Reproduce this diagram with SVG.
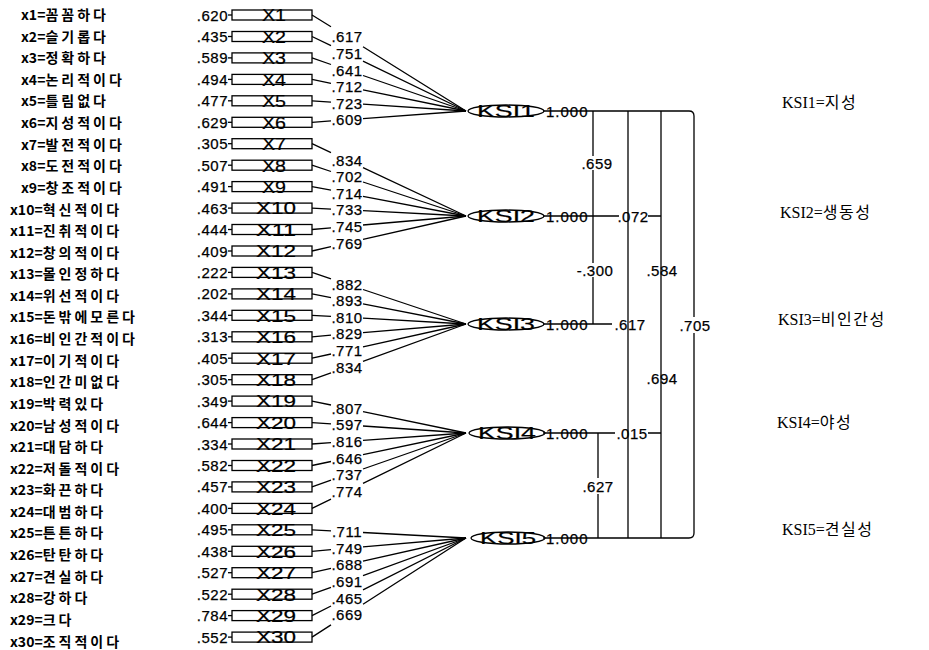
<svg xmlns="http://www.w3.org/2000/svg" width="929" height="650" viewBox="0 0 929 650">
<style>
.lab{font-family:"Noto Sans CJK KR","Noto Sans",sans-serif;font-size:14px;font-weight:700;fill:#000}
.h{letter-spacing:3px}
.num{font-family:"Liberation Sans",Arial,sans-serif;font-size:15px;letter-spacing:0.5px;fill:#000;stroke:#000;stroke-width:0.25}
.ev{text-anchor:end}
.mid{text-anchor:middle}
.bx{fill:none;stroke:#000;stroke-width:1.3}
.bt{font-family:"Liberation Sans",Arial,sans-serif;font-size:17px;text-anchor:middle;fill:#000;stroke:#000;stroke-width:0.2}
.ln{stroke:#000;stroke-width:1.3;fill:none}
.el{fill:none;stroke:#000;stroke-width:1.3}
.rl{font-family:"Liberation Serif","Noto Sans CJK KR",serif;font-size:16px;fill:#000}
.rh{letter-spacing:1.5px}
</style>
<rect width="929" height="650" fill="#fff"/>
<g id="indicators">
<g id="x1" transform="translate(0,15)"><text class="lab" x="21" y="5">x1=<tspan class="h">꼼꼼하다</tspan></text><text class="num ev" x="228" y="5.5">.620</text><path class="ln" d="M228,0H232"/><rect class="bx" x="232" y="-5" width="80" height="10"/><text class="bt" x="274" y="6.3" textLength="24" lengthAdjust="spacingAndGlyphs">X1</text></g>
<g id="x2" transform="translate(0,36.5)"><text class="lab" x="21" y="5.2">x2=<tspan class="h">슬기롭다</tspan></text><text class="num ev" x="228" y="5.5">.435</text><path class="ln" d="M228,0H232"/><rect class="bx" x="232" y="-5" width="80" height="10"/><text class="bt" x="274" y="6.3" textLength="24" lengthAdjust="spacingAndGlyphs">X2</text></g>
<g id="x3" transform="translate(0,57.9)"><text class="lab" x="21" y="5.3">x3=<tspan class="h">정확하다</tspan></text><text class="num ev" x="228" y="5.5">.589</text><path class="ln" d="M228,0H232"/><rect class="bx" x="232" y="-5" width="80" height="10"/><text class="bt" x="274" y="6.3" textLength="24" lengthAdjust="spacingAndGlyphs">X3</text></g>
<g id="x4" transform="translate(0,79.4)"><text class="lab" x="21" y="5.5">x4=<tspan class="h">논리적이다</tspan></text><text class="num ev" x="228" y="5.5">.494</text><path class="ln" d="M228,0H232"/><rect class="bx" x="232" y="-5" width="80" height="10"/><text class="bt" x="274" y="6.3" textLength="24" lengthAdjust="spacingAndGlyphs">X4</text></g>
<g id="x5" transform="translate(0,100.8)"><text class="lab" x="21" y="5.6">x5=<tspan class="h">틀림없다</tspan></text><text class="num ev" x="228" y="5.5">.477</text><path class="ln" d="M228,0H232"/><rect class="bx" x="232" y="-5" width="80" height="10"/><text class="bt" x="274" y="6.3" textLength="24" lengthAdjust="spacingAndGlyphs">X5</text></g>
<g id="x6" transform="translate(0,122.3)"><text class="lab" x="21" y="5.8">x6=<tspan class="h">지성적이다</tspan></text><text class="num ev" x="228" y="5.5">.629</text><path class="ln" d="M228,0H232"/><rect class="bx" x="232" y="-5" width="80" height="10"/><text class="bt" x="274" y="6.3" textLength="24" lengthAdjust="spacingAndGlyphs">X6</text></g>
<g id="x7" transform="translate(0,143.7)"><text class="lab" x="21" y="5.9">x7=<tspan class="h">발전적이다</tspan></text><text class="num ev" x="228" y="5.5">.305</text><path class="ln" d="M228,0H232"/><rect class="bx" x="232" y="-5" width="80" height="10"/><text class="bt" x="274" y="6.3" textLength="24" lengthAdjust="spacingAndGlyphs">X7</text></g>
<g id="x8" transform="translate(0,165.2)"><text class="lab" x="21" y="6.1">x8=<tspan class="h">도전적이다</tspan></text><text class="num ev" x="228" y="5.5">.507</text><path class="ln" d="M228,0H232"/><rect class="bx" x="232" y="-5" width="80" height="10"/><text class="bt" x="274" y="6.3" textLength="24" lengthAdjust="spacingAndGlyphs">X8</text></g>
<g id="x9" transform="translate(0,186.6)"><text class="lab" x="21" y="6.2">x9=<tspan class="h">창조적이다</tspan></text><text class="num ev" x="228" y="5.5">.491</text><path class="ln" d="M228,0H232"/><rect class="bx" x="232" y="-5" width="80" height="10"/><text class="bt" x="274" y="6.3" textLength="24" lengthAdjust="spacingAndGlyphs">X9</text></g>
<g id="x10" transform="translate(0,208.1)"><text class="lab" x="10" y="6.4">x10=<tspan class="h">혁신적이다</tspan></text><text class="num ev" x="228" y="5.5">.463</text><path class="ln" d="M228,0H232"/><rect class="bx" x="232" y="-5" width="80" height="10"/><text class="bt" x="276" y="6.3" textLength="40" lengthAdjust="spacingAndGlyphs">X10</text></g>
<g id="x11" transform="translate(0,229.5)"><text class="lab" x="10" y="6.5">x11=<tspan class="h">진취적이다</tspan></text><text class="num ev" x="228" y="5.5">.444</text><path class="ln" d="M228,0H232"/><rect class="bx" x="232" y="-5" width="80" height="10"/><text class="bt" x="276" y="6.3" textLength="40" lengthAdjust="spacingAndGlyphs">X11</text></g>
<g id="x12" transform="translate(0,251)"><text class="lab" x="10" y="6.7">x12=<tspan class="h">창의적이다</tspan></text><text class="num ev" x="228" y="5.5">.409</text><path class="ln" d="M228,0H232"/><rect class="bx" x="232" y="-5" width="80" height="10"/><text class="bt" x="276" y="6.3" textLength="40" lengthAdjust="spacingAndGlyphs">X12</text></g>
<g id="x13" transform="translate(0,272.4)"><text class="lab" x="10" y="6.8">x13=<tspan class="h">몰인정하다</tspan></text><text class="num ev" x="228" y="5.5">.222</text><path class="ln" d="M228,0H232"/><rect class="bx" x="232" y="-5" width="80" height="10"/><text class="bt" x="276" y="6.3" textLength="40" lengthAdjust="spacingAndGlyphs">X13</text></g>
<g id="x14" transform="translate(0,293.9)"><text class="lab" x="10" y="7">x14=<tspan class="h">위선적이다</tspan></text><text class="num ev" x="228" y="5.5">.202</text><path class="ln" d="M228,0H232"/><rect class="bx" x="232" y="-5" width="80" height="10"/><text class="bt" x="276" y="6.3" textLength="40" lengthAdjust="spacingAndGlyphs">X14</text></g>
<g id="x15" transform="translate(0,315.3)"><text class="lab" x="10" y="7.1">x15=<tspan class="h">돈밖에모른다</tspan></text><text class="num ev" x="228" y="5.5">.344</text><path class="ln" d="M228,0H232"/><rect class="bx" x="232" y="-5" width="80" height="10"/><text class="bt" x="276" y="6.3" textLength="40" lengthAdjust="spacingAndGlyphs">X15</text></g>
<g id="x16" transform="translate(0,336.8)"><text class="lab" x="10" y="7.3">x16=<tspan class="h">비인간적이다</tspan></text><text class="num ev" x="228" y="5.5">.313</text><path class="ln" d="M228,0H232"/><rect class="bx" x="232" y="-5" width="80" height="10"/><text class="bt" x="276" y="6.3" textLength="40" lengthAdjust="spacingAndGlyphs">X16</text></g>
<g id="x17" transform="translate(0,358.2)"><text class="lab" x="10" y="7.4">x17=<tspan class="h">이기적이다</tspan></text><text class="num ev" x="228" y="5.5">.405</text><path class="ln" d="M228,0H232"/><rect class="bx" x="232" y="-5" width="80" height="10"/><text class="bt" x="276" y="6.3" textLength="40" lengthAdjust="spacingAndGlyphs">X17</text></g>
<g id="x18" transform="translate(0,379.7)"><text class="lab" x="10" y="7.6">x18=<tspan class="h">인간미없다</tspan></text><text class="num ev" x="228" y="5.5">.305</text><path class="ln" d="M228,0H232"/><rect class="bx" x="232" y="-5" width="80" height="10"/><text class="bt" x="276" y="6.3" textLength="40" lengthAdjust="spacingAndGlyphs">X18</text></g>
<g id="x19" transform="translate(0,401.1)"><text class="lab" x="10" y="7.7">x19=<tspan class="h">박력있다</tspan></text><text class="num ev" x="228" y="5.5">.349</text><path class="ln" d="M228,0H232"/><rect class="bx" x="232" y="-5" width="80" height="10"/><text class="bt" x="276" y="6.3" textLength="40" lengthAdjust="spacingAndGlyphs">X19</text></g>
<g id="x20" transform="translate(0,422.6)"><text class="lab" x="10" y="7.9">x20=<tspan class="h">남성적이다</tspan></text><text class="num ev" x="228" y="5.5">.644</text><path class="ln" d="M228,0H232"/><rect class="bx" x="232" y="-5" width="80" height="10"/><text class="bt" x="276" y="6.3" textLength="40" lengthAdjust="spacingAndGlyphs">X20</text></g>
<g id="x21" transform="translate(0,444)"><text class="lab" x="10" y="8">x21=<tspan class="h">대담하다</tspan></text><text class="num ev" x="228" y="5.5">.334</text><path class="ln" d="M228,0H232"/><rect class="bx" x="232" y="-5" width="80" height="10"/><text class="bt" x="276" y="6.3" textLength="40" lengthAdjust="spacingAndGlyphs">X21</text></g>
<g id="x22" transform="translate(0,465.5)"><text class="lab" x="10" y="8.2">x22=<tspan class="h">저돌적이다</tspan></text><text class="num ev" x="228" y="5.5">.582</text><path class="ln" d="M228,0H232"/><rect class="bx" x="232" y="-5" width="80" height="10"/><text class="bt" x="276" y="6.3" textLength="40" lengthAdjust="spacingAndGlyphs">X22</text></g>
<g id="x23" transform="translate(0,486.9)"><text class="lab" x="10" y="8.3">x23=<tspan class="h">화끈하다</tspan></text><text class="num ev" x="228" y="5.5">.457</text><path class="ln" d="M228,0H232"/><rect class="bx" x="232" y="-5" width="80" height="10"/><text class="bt" x="276" y="6.3" textLength="40" lengthAdjust="spacingAndGlyphs">X23</text></g>
<g id="x24" transform="translate(0,508.4)"><text class="lab" x="10" y="8.5">x24=<tspan class="h">대범하다</tspan></text><text class="num ev" x="228" y="5.5">.400</text><path class="ln" d="M228,0H232"/><rect class="bx" x="232" y="-5" width="80" height="10"/><text class="bt" x="276" y="6.3" textLength="40" lengthAdjust="spacingAndGlyphs">X24</text></g>
<g id="x25" transform="translate(0,529.8)"><text class="lab" x="10" y="8.6">x25=<tspan class="h">튼튼하다</tspan></text><text class="num ev" x="228" y="5.5">.495</text><path class="ln" d="M228,0H232"/><rect class="bx" x="232" y="-5" width="80" height="10"/><text class="bt" x="276" y="6.3" textLength="40" lengthAdjust="spacingAndGlyphs">X25</text></g>
<g id="x26" transform="translate(0,551.3)"><text class="lab" x="10" y="8.8">x26=<tspan class="h">탄탄하다</tspan></text><text class="num ev" x="228" y="5.5">.438</text><path class="ln" d="M228,0H232"/><rect class="bx" x="232" y="-5" width="80" height="10"/><text class="bt" x="276" y="6.3" textLength="40" lengthAdjust="spacingAndGlyphs">X26</text></g>
<g id="x27" transform="translate(0,572.7)"><text class="lab" x="10" y="8.9">x27=<tspan class="h">견실하다</tspan></text><text class="num ev" x="228" y="5.5">.527</text><path class="ln" d="M228,0H232"/><rect class="bx" x="232" y="-5" width="80" height="10"/><text class="bt" x="276" y="6.3" textLength="40" lengthAdjust="spacingAndGlyphs">X27</text></g>
<g id="x28" transform="translate(0,594.2)"><text class="lab" x="10" y="9.1">x28=<tspan class="h">강하다</tspan></text><text class="num ev" x="228" y="5.5">.522</text><path class="ln" d="M228,0H232"/><rect class="bx" x="232" y="-5" width="80" height="10"/><text class="bt" x="276" y="6.3" textLength="40" lengthAdjust="spacingAndGlyphs">X28</text></g>
<g id="x29" transform="translate(0,615.6)"><text class="lab" x="10" y="9.2">x29=<tspan class="h">크다</tspan></text><text class="num ev" x="228" y="5.5">.784</text><path class="ln" d="M228,0H232"/><rect class="bx" x="232" y="-5" width="80" height="10"/><text class="bt" x="276" y="6.3" textLength="40" lengthAdjust="spacingAndGlyphs">X29</text></g>
<g id="x30" transform="translate(0,637.1)"><text class="lab" x="10" y="9.4">x30=<tspan class="h">조직적이다</tspan></text><text class="num ev" x="228" y="5.5">.552</text><path class="ln" d="M228,0H232"/><rect class="bx" x="232" y="-5" width="80" height="10"/><text class="bt" x="276" y="6.3" textLength="40" lengthAdjust="spacingAndGlyphs">X30</text></g>
</g>
<g id="connectors" class="ln">
<path d="M312,15L331,26.8M363,46.8L466,111"/>
<path d="M312,36.5L331,45.7M363,61.2L466,111"/>
<path d="M312,57.9L331,64.5M363,75.5L466,111"/>
<path d="M312,79.4L331,83.3M363,89.9L466,111"/>
<path d="M312,100.8L331,102.1M363,104.2L466,111"/>
<path d="M312,122.3L331,120.9M363,118.6L466,111"/>
<path d="M312,143.7L331,152.6M363,167.6L466,216"/>
<path d="M312,165.2L331,171.5M363,182L466,216"/>
<path d="M312,186.6L331,190.2M363,196.3L466,216"/>
<path d="M312,208.1L331,209.1M363,210.7L466,216"/>
<path d="M312,229.5L331,227.8M363,225L466,216"/>
<path d="M312,251L331,246.7M363,239.4L466,216"/>
<path d="M312,272.4L331,278.8M363,289.5L466,324"/>
<path d="M312,293.9L331,297.6M363,303.9L466,324"/>
<path d="M312,315.3L331,316.4M363,318.2L466,324"/>
<path d="M312,336.8L331,335.2M363,332.6L466,324"/>
<path d="M312,358.2L331,354M363,346.9L466,324"/>
<path d="M312,379.7L331,372.8M363,361.3L466,324"/>
<path d="M312,401.1L331,405M363,411.7L466,433"/>
<path d="M312,422.6L331,423.9M363,426L466,433"/>
<path d="M312,444L331,442.6M363,440.4L466,433"/>
<path d="M312,465.5L331,461.5M363,454.7L466,433"/>
<path d="M312,486.9L331,480.2M363,469L466,433"/>
<path d="M312,508.4L331,499.1M363,483.4L466,433"/>
<path d="M312,529.8L331,530.8M363,532.5L466,538"/>
<path d="M312,551.3L331,549.7M363,546.9L466,538"/>
<path d="M312,572.7L331,568.4M363,561.2L466,538"/>
<path d="M312,594.2L331,587.3M363,575.6L466,538"/>
<path d="M312,615.6L331,606M363,589.9L466,538"/>
<path d="M312,637.1L331,624.9M363,604.3L466,538"/>
<path d="M543,111H689Q694,111 694,116V317M694,333V533Q694,538 689,538H543"/>
<path d="M593,111V156M593,170V263M593,277V324"/>
<path d="M628,111V538"/>
<path d="M661,111V538"/>
<path d="M543,216H619M648,216H661"/>
<path d="M543,324H612"/>
<path d="M543,433H615M648,433H661"/>
<path d="M598,433V478M598,494V538"/>
</g>
<g id="loadings" class="num">
<text class="mid" x="347" y="42.3">.617</text>
<text class="mid" x="347" y="58.9">.751</text>
<text class="mid" x="347" y="75.5">.641</text>
<text class="mid" x="347" y="92">.712</text>
<text class="mid" x="347" y="108.6">.723</text>
<text class="mid" x="347" y="125.2">.609</text>
<text class="mid" x="347" y="165.6">.834</text>
<text class="mid" x="347" y="182.2">.702</text>
<text class="mid" x="347" y="198.8">.714</text>
<text class="mid" x="347" y="215.4">.733</text>
<text class="mid" x="347" y="231.9">.745</text>
<text class="mid" x="347" y="248.5">.769</text>
<text class="mid" x="347" y="289.6">.882</text>
<text class="mid" x="347" y="306.2">.893</text>
<text class="mid" x="347" y="322.8">.810</text>
<text class="mid" x="347" y="339.4">.829</text>
<text class="mid" x="347" y="355.9">.771</text>
<text class="mid" x="347" y="372.5">.834</text>
<text class="mid" x="347" y="413.9">.807</text>
<text class="mid" x="347" y="430.4">.597</text>
<text class="mid" x="347" y="447">.816</text>
<text class="mid" x="347" y="463.6">.646</text>
<text class="mid" x="347" y="480.1">.737</text>
<text class="mid" x="347" y="496.7">.774</text>
<text class="mid" x="347" y="537.2">.711</text>
<text class="mid" x="347" y="553.7">.749</text>
<text class="mid" x="347" y="570.3">.688</text>
<text class="mid" x="347" y="586.9">.691</text>
<text class="mid" x="347" y="603.5">.465</text>
<text class="mid" x="347" y="620">.669</text>
</g>
<g id="KSI1"><ellipse class="el" cx="506" cy="111" rx="38" ry="6"/><text class="bt" x="506" y="117" textLength="58" lengthAdjust="spacingAndGlyphs">KSI1</text><text class="num" x="546" y="116.5" style="letter-spacing:1px">1.000</text></g>
<g id="KSI2"><ellipse class="el" cx="506" cy="216" rx="38" ry="6"/><text class="bt" x="506" y="222" textLength="58" lengthAdjust="spacingAndGlyphs">KSI2</text><text class="num" x="546" y="221.5" style="letter-spacing:1px">1.000</text></g>
<g id="KSI3"><ellipse class="el" cx="506" cy="324" rx="38" ry="6"/><text class="bt" x="506" y="330" textLength="58" lengthAdjust="spacingAndGlyphs">KSI3</text><text class="num" x="546" y="329.5" style="letter-spacing:1px">1.000</text></g>
<g id="KSI4"><ellipse class="el" cx="507" cy="433" rx="38" ry="6"/><text class="bt" x="507" y="439" textLength="58" lengthAdjust="spacingAndGlyphs">KSI4</text><text class="num" x="546" y="438.5" style="letter-spacing:1px">1.000</text></g>
<g id="KSI5"><ellipse class="el" cx="508" cy="538" rx="37" ry="6"/><text class="bt" x="508" y="544" textLength="56" lengthAdjust="spacingAndGlyphs">KSI5</text><text class="num" x="546" y="543.5" style="letter-spacing:1px">1.000</text></g>
<g id="correlations" class="num">
<text class="mid" x="597" y="168.5">.659</text>
<text class="mid" x="595" y="275.5">-.300</text>
<text class="mid" x="633" y="221.5">.072</text>
<text class="mid" x="662" y="275.5">.584</text>
<text class="mid" x="630" y="329.5">.617</text>
<text class="mid" x="695" y="330.5">.705</text>
<text class="mid" x="662" y="383.5">.694</text>
<text class="mid" x="632" y="438.5">.015</text>
<text class="mid" x="598" y="491.5">.627</text>
</g>
<g id="legend">
<text class="rl" x="782" y="108">KSI1=<tspan class="rh">지성</tspan></text>
<text class="rl" x="780" y="218">KSI2=<tspan class="rh">생동성</tspan></text>
<text class="rl" x="778" y="325">KSI3=<tspan class="rh">비인간성</tspan></text>
<text class="rl" x="777" y="428">KSI4=<tspan class="rh">야성</tspan></text>
<text class="rl" x="782" y="535">KSI5=<tspan class="rh">견실성</tspan></text>
</g>
</svg>
